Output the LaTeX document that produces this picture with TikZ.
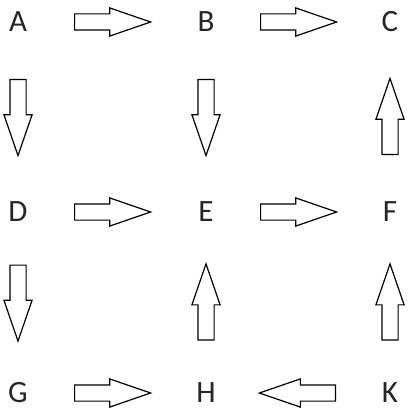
\documentclass[tikz,border=0pt]{standalone}
\usepackage{fontspec}
\setmainfont{Carlito}
\usetikzlibrary{shapes.arrows,calc}
\begin{document}
\begin{tikzpicture}[x=1pt,y=-1pt,
  letter/.style={inner sep=0pt, text=black!85, font=\fontsize{31}{36}\selectfont},
  blockarrow/.style={single arrow, draw=black, line width=1.2pt, fill=white,
    inner xsep=0pt, inner ysep=7.5pt, minimum height=76pt,
    single arrow head extend=6pt, single arrow tip angle=38, anchor=tail}
]
\useasboundingbox (0,0) rectangle (409,414);
\node[letter] (A) at (18,22) {A};
\node[letter] (B) at (206,22) {B};
\node[letter] (C) at (390,22) {C};
\node[letter] (D) at (18,212) {D};
\node[letter] (E) at (206,212) {E};
\node[letter] (F) at (390,212) {F};
\node[letter] (G) at (18,393) {G};
\node[letter] (H) at (206,393) {H};
\node[letter] (K) at (390,393) {K};
% right-pointing
\node[blockarrow, rotate=0]   (ab) at ($(A)!0.5!(B)!38pt!(A)$) {};
\node[blockarrow, rotate=0]   (bc) at ($(B)!0.5!(C)!38pt!(B)$) {};
\node[blockarrow, rotate=0]   (de) at ($(D)!0.5!(E)!38pt!(D)$) {};
\node[blockarrow, rotate=0]   (ef) at ($(E)!0.5!(F)!38pt!(E)$) {};
\node[blockarrow, rotate=0]   (gh) at ($(G)!0.5!(H)!38pt!(G)$) {};
% left-pointing
\node[blockarrow, rotate=180] (kh) at ($(K)!0.5!(H)!38pt!(K)$) {};
% down-pointing
\node[blockarrow, rotate=-90] (ad) at ($(A)!0.5!(D)!38pt!(A)$) {};
\node[blockarrow, rotate=-90] (be) at ($(B)!0.5!(E)!38pt!(B)$) {};
\node[blockarrow, rotate=-90] (dg) at ($(D)!0.5!(G)!38pt!(D)$) {};
% up-pointing
\node[blockarrow, rotate=90]  (fc) at ($(F)!0.5!(C)!38pt!(F)$) {};
\node[blockarrow, rotate=90]  (he) at ($(H)!0.5!(E)!38pt!(H)$) {};
\node[blockarrow, rotate=90]  (kf) at ($(K)!0.5!(F)!38pt!(K)$) {};
\end{tikzpicture}
\end{document}
